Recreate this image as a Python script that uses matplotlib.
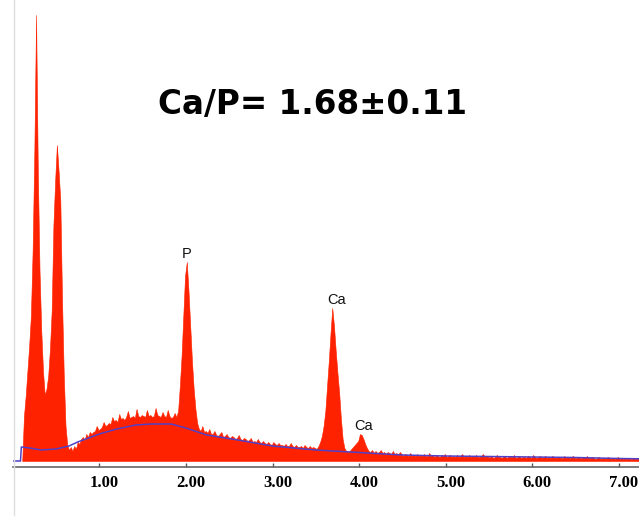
import numpy as np
import matplotlib
matplotlib.use('Agg')
import matplotlib.pyplot as plt
from matplotlib.lines import Line2D
from matplotlib.transforms import ScaledTranslation

# EDS spectrum, 0.02 keV channels starting at 0.11 keV (counts)
start_kev = 0.11
channel_kev = 0.02
counts = [
    0, 45, 65, 90, 115, 145, 210, 310, 446, 290,       # 0.11 - 0.29  C
    190, 130, 90, 66, 72, 85, 112, 150, 235, 280,      # 0.31 - 0.49
    316, 290, 260, 160, 85, 35, 16, 11, 14, 10,        # 0.51 - 0.69  O
    15, 12, 19, 17, 22, 24, 21, 27, 24, 29,            # 0.71 - 0.89
    27, 29, 30, 35, 31, 32, 34, 39, 35, 36,            # 0.91 - 1.09
    38, 37, 44, 40, 41, 39, 47, 42, 43, 41,            # 1.11 - 1.29
    44, 50, 43, 44, 45, 43, 52, 45, 44, 46,            # 1.31 - 1.49
    45, 44, 51, 45, 46, 44, 45, 53, 46, 45,            # 1.51 - 1.69
    44, 49, 45, 44, 51, 45, 43, 44, 48, 44,            # 1.71 - 1.89
    50, 75, 105, 145, 185, 199, 170, 135, 100, 72,     # 1.91 - 2.09  P
    52, 38, 32, 30, 35, 29, 30, 28, 32, 27,            # 2.11 - 2.29
    27, 30, 26, 25, 27, 29, 24, 25, 27, 24,            # 2.31 - 2.49
    23, 25, 24, 22, 23, 26, 22, 21, 23, 22,            # 2.51 - 2.69
    20, 21, 23, 19, 20, 19, 22, 19, 18, 20,            # 2.71 - 2.89
    18, 17, 19, 17, 16, 19, 17, 16, 18, 16,            # 2.91 - 3.09
    16, 15, 17, 15, 15, 18, 15, 14, 16, 14,            # 3.11 - 3.29
    14, 15, 13, 16, 14, 13, 15, 13, 14, 13,            # 3.31 - 3.49
    12, 15, 19, 25, 35, 50, 75, 100, 128, 153,         # 3.51 - 3.69  Ca Ka
    135, 110, 88, 68, 42, 22, 13, 10, 9, 10,           # 3.71 - 3.89
    12, 14, 16, 18, 20, 27, 26, 22, 17, 13,            # 3.91 - 4.09  Ca Kb
    10, 9, 11, 8, 10, 8, 9, 11, 8, 9,                  # 4.11 - 4.29
    7, 9, 8, 7, 10, 7, 8, 6, 9, 7,                     # 4.31 - 4.49
    5, 7, 6, 5, 8, 5, 6, 5, 7, 5,                      # 4.51 - 4.69
    6, 5, 7, 5, 5, 8, 5, 6, 4, 6,                      # 4.71 - 4.89
    5, 4, 6, 5, 7, 4, 5, 6, 4, 5,                      # 4.91 - 5.09
    4, 6, 4, 5, 7, 4, 5, 4, 6, 4,                      # 5.11 - 5.29
    5, 4, 6, 4, 4, 5, 7, 4, 5, 4,                      # 5.31 - 5.49
    4, 5, 3, 4, 6, 4, 4, 3, 5, 4,                      # 5.51 - 5.69
    3, 5, 4, 4, 6, 3, 4, 5, 3, 4,                      # 5.71 - 5.89
    4, 3, 5, 4, 3, 6, 4, 3, 4, 5,                      # 5.91 - 6.09
    3, 4, 5, 3, 4, 3, 5, 4, 3, 4,                      # 6.11 - 6.29
    4, 3, 3, 5, 3, 4, 3, 4, 5, 3,                      # 6.31 - 6.49
    3, 4, 3, 3, 4, 3, 5, 3, 3, 4,                      # 6.51 - 6.69
    3, 2, 3, 4, 2, 3, 3, 2, 4, 3,                      # 6.71 - 6.89
    2, 3, 2, 3, 4, 2, 3, 2, 3, 2,                      # 6.91 - 7.09
    3, 2, 2, 3, 2, 3, 2, 2, 3, 2,                      # 7.11 - 7.29
    2, 3, 2, 2,                                        # 7.31 - 7.37
]

# background (bremsstrahlung) fit line
bg_kev = [0.0, 0.09, 0.10, 0.20, 0.33, 0.50, 0.65, 0.75, 1.00, 1.20, 1.42, 1.60,
          1.83, 2.00, 2.24, 2.60, 3.00, 3.50, 4.00, 4.50, 5.00, 5.50, 6.00, 6.50,
          7.00, 7.40]
bg_cnt = [0, 0, 14, 13, 11, 12, 15, 19, 27, 32, 36, 37,
          37, 33, 26, 21, 15, 11, 8.5, 6, 5, 4.5, 4, 3.5,
          2.5, 2]

peak_labels = ['P', 'Ca', 'Ca']
peak_kev = [2.013, 3.741, 4.057]
peak_y = [203, 157, 31]

xticks = [1, 2, 3, 4, 5, 6, 7]
title = 'Ca/P= 1.68\u00b10.11'

energy = start_kev + channel_kev * np.arange(len(counts))

W, H = 639, 524
fig = plt.figure(figsize=(W / 100, H / 100), dpi=100)
ax = fig.add_axes([13 / W, 57 / H, (650 - 13) / W, 467 / H])

ax.fill_between(energy, counts, color='#ff2200', lw=0.4, edgecolor='#ff2200')
ax.plot(bg_kev, bg_cnt, color='#5040c8', lw=1.1)

ax.set_xlim(0.0035, 7.359)
ax.set_ylim(-6, 461)

for s in ['top', 'right', 'left']:
    ax.spines[s].set_visible(False)
ax.spines['bottom'].set_color('#666666')
ax.spines['bottom'].set_linewidth(1.2)
ax.set_yticks([])
ax.set_xticks(xticks)
ax.set_xticklabels(['%.2f' % t for t in xticks])
ax.tick_params(axis='x', direction='in', length=3, width=1, color='#555555',
               pad=6, labelsize=12)
for lab in ax.get_xticklabels():
    lab.set_fontfamily('Liberation Serif')
    lab.set_fontweight('bold')
for tk in ax.xaxis.get_major_ticks():
    tk.label1.set_transform(tk.label1.get_transform() +
                            ScaledTranslation(0.05, 0, fig.dpi_scale_trans))

for lab, x, y in zip(peak_labels, peak_kev, peak_y):
    ax.text(x, y, lab, ha='center', va='baseline', fontsize=10.5,
            family='Liberation Sans', color='#111111')

fig.text(313 / W, 1 - 114 / H, title, ha='center', va='baseline',
         fontsize=23.5, fontweight='bold', family='DejaVu Sans', color='black')

# light frame line on the left
fig.add_artist(Line2D([13.5 / W, 13.5 / W], [1 - 515 / H, 1], transform=fig.transFigure,
                      color='#dddddd', lw=1))

fig.savefig('out.png', dpi=100)
